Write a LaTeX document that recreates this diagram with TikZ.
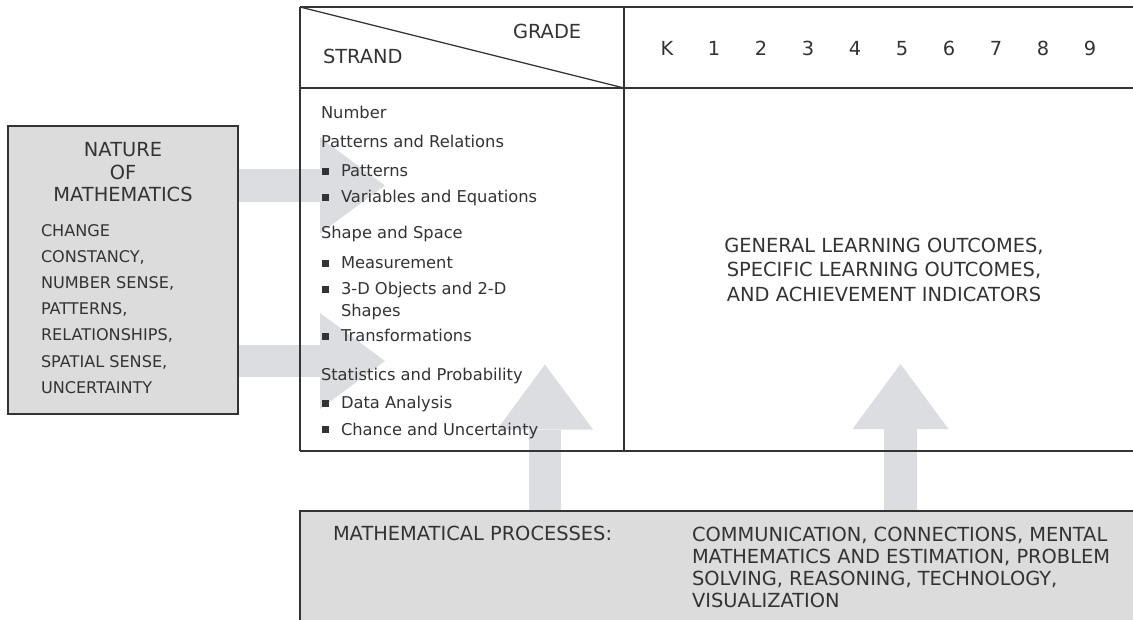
\documentclass[tikz,border=0pt]{standalone}
\usepackage{fontspec}
\setmainfont{DejaVu Sans}
\usetikzlibrary{arrows.meta}
\definecolor{ink}{HTML}{333333}
\definecolor{boxgray}{HTML}{DCDCDD}
\definecolor{arrowgray}{HTML}{DCDDE0}
\pgfdeclarelayer{bg}
\pgfsetlayers{bg,main}
\newcommand\capsfont{\fontsize{19.4}{22}\selectfont}
\newcommand\natlistfont{\fontsize{16.1}{20}\selectfont}
\newcommand\listfont{\fontsize{16.3}{20}\selectfont}
\begin{document}
\begin{tikzpicture}[x=1pt,y=-1pt,
  txt/.style={inner sep=0pt, outer sep=0pt, text=ink, font=\capsfont},
  ntxt/.style={inner sep=0pt, outer sep=0pt, text=ink, font=\natlistfont, anchor=base west},
  ltxt/.style={inner sep=0pt, outer sep=0pt, text=ink, font=\listfont, anchor=base west},
  tline/.style={draw=ink, line width=1.5pt},
  bulletsq/.style={fill=ink, inner sep=0pt, outer sep=0pt, minimum size=7pt},
  fatarrow/.style={draw=arrowgray, line width=32.5pt,
    -{Triangle[width=96pt 0 0, length=65pt 0 0, line width=0pt 0 0, fill=arrowgray]}}]
\useasboundingbox (0,0) rectangle (1133,620);

% ---- Nature of mathematics box
\node[name=nature, fill=boxgray, draw=ink, line width=1.5pt, anchor=north west,
  minimum width=230pt, minimum height=288pt, inner sep=0pt, outer sep=0pt] at (8,126) {};
\node[txt, anchor=base] (nat1) at (123,157) {NATURE};
\node[txt, anchor=base] (nat2) at (123,180) {OF};
\node[txt, anchor=base] (nat3) at (123,202) {MATHEMATICS};
\node[ntxt] (c1) at (41,237) {CHANGE};
\node[ntxt] (c2) at (41,263) {CONSTANCY,};
\node[ntxt] (c3) at (41,289) {NUMBER SENSE,};
\node[ntxt] (c4) at (41,315) {PATTERNS,};
\node[ntxt] (c5) at (41,341) {RELATIONSHIPS,};
\node[ntxt] (c6) at (41,367) {SPATIAL SENSE,};
\node[ntxt] (c7) at (41,393) {UNCERTAINTY};

% ---- Table
\coordinate (tTL) at (300,7);
\coordinate (tTM) at (624,7);
\coordinate (tTR) at (1133,7);
\coordinate (tHL) at (300,88);
\coordinate (tHM) at (624,88);
\coordinate (tHR) at (1133,88);
\coordinate (tBL) at (300,451);
\coordinate (tBM) at (624,451);
\coordinate (tBR) at (1133,451);
\draw[tline] (tTL) -- (tTR);
\draw[tline] (tHL) -- (tHR);
\draw[tline] (tBL) -- (tBR);
\draw[tline] (tTL) -- (tBL);
\draw[tline] (tTM) -- (tBM);
\draw[draw=ink, line width=1.3pt] (tTL) -- (tHM);

\node[txt, anchor=base west] (grade) at (513,39) {GRADE};
\node[txt, anchor=base west] (strand) at (323,64) {STRAND};
\foreach \g [count=\i from 0] in {K,1,2,3,4,5,6,7,8,9}
  \node[txt, anchor=base] (g\i) at ({667+47*\i},56) {\g};

% strand list
\node[ltxt] (s1) at (321,119) {Number};
\node[ltxt] (s2) at (321,148) {Patterns and Relations};
\node[ltxt] (s3) at (341,177) {Patterns};
\node[ltxt] (s4) at (341,203) {Variables and Equations};
\node[ltxt] (s5) at (321,239) {Shape and Space};
\node[ltxt] (s6) at (341,269) {Measurement};
\node[ltxt] (s7) at (341,295) {3-D Objects and 2-D};
\node[ltxt] (s8) at (341,317) {Shapes};
\node[ltxt] (s9) at (341,342) {Transformations};
\node[ltxt] (s10) at (321,381) {Statistics and Probability};
\node[ltxt] (s11) at (341,409) {Data Analysis};
\node[ltxt] (s12) at (341,435) {Chance and Uncertainty};
\foreach \b/\y in {3/177,4/203,6/269,7/295,9/342,11/409,12/435}
  \node[bulletsq] (b\b) at (325,{\y-5.5}) {};

% outcomes
\node[txt, anchor=base] (glo1) at (884,253) {GENERAL LEARNING OUTCOMES,};
\node[txt, anchor=base] (glo2) at (884,277) {SPECIFIC LEARNING OUTCOMES,};
\node[txt, anchor=base] (glo3) at (884,302) {AND ACHIEVEMENT INDICATORS};

% ---- Processes box
\node[name=proc, fill=boxgray, anchor=north west, minimum width=833pt,
  minimum height=109pt, inner sep=0pt, outer sep=0pt] at (300,511) {};
\draw[tline] (proc.south west) -- (proc.north west) -- (proc.north east);
\node[txt, anchor=base west] (mp) at (333,540) {MATHEMATICAL PROCESSES:};
\node[txt, anchor=base west] (p1) at (692,541) {COMMUNICATION, CONNECTIONS, MENTAL};
\node[txt, anchor=base west] (p2) at (692,563) {MATHEMATICS AND ESTIMATION, PROBLEM};
\node[txt, anchor=base west] (p3) at (692,585) {SOLVING, REASONING, TECHNOLOGY,};
\node[txt, anchor=base west] (p4) at (692,607) {VISUALIZATION};

% ---- Block arrows (behind)
\coordinate (h1t) at (385,185.5);
\coordinate (h2t) at (385,361);
\coordinate (v1t) at (545,364.5);
\coordinate (v2t) at (900.5,364);
\begin{pgfonlayer}{bg}
  \draw[fatarrow] (nature.east |- h1t) -- (h1t);
  \draw[fatarrow] (nature.east |- h2t) -- (h2t);
  \draw[fatarrow] (v1t |- proc.north) -- (v1t);
  \draw[fatarrow] (v2t |- proc.north) -- (v2t);
\end{pgfonlayer}
\end{tikzpicture}
\end{document}
